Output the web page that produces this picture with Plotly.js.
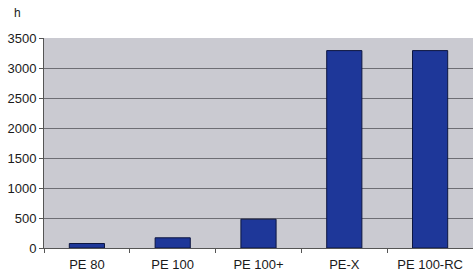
<!DOCTYPE html>
<html><head><meta charset="utf-8">
<script src="https://cdn.plot.ly/plotly-3.0.1.min.js"></script>
<style>html,body{margin:0;padding:0;background:#fff;}#chart{width:473px;height:275px;}</style>
</head><body><div id="chart"></div>
<script>
const categories = ["PE 80", "PE 100", "PE 100+", "PE-X", "PE 100-RC"];
const hours = [75, 170, 480, 3290, 3290];
const yTicks = [0, 500, 1000, 1500, 2000, 2500, 3000, 3500];

const trace = {
  type: 'bar', x: categories, y: hours, width: 0.41,
  marker: {color: '#1e3799', line: {color: '#0d1640', width: 1}},
  hoverinfo: 'none'
};
const layout = {
  width: 473, height: 275,
  margin: {l: 44, r: 0, t: 38, b: 27},
  paper_bgcolor: '#ffffff', plot_bgcolor: '#cacad1',
  showlegend: false,
  font: {family: 'Liberation Sans, Arial, sans-serif', size: 13, color: '#1a1a1a'},
  xaxis: {
    type: 'category', showgrid: false, showline: true, linecolor: '#555', linewidth: 1,
    ticks: 'outside', tickson: 'boundaries', ticklen: 4, tickcolor: '#555',
    ticklabelstandoff: 4,
    tickfont: {size: 13}, fixedrange: true
  },
  yaxis: {
    range: [0, 3500], tickvals: yTicks, ticktext: yTicks.map(String),
    showgrid: true, gridcolor: '#6e6e74', gridwidth: 1,
    showline: true, linecolor: '#555', linewidth: 1,
    ticks: 'outside', ticklen: 4, tickcolor: '#555', zeroline: false,
    tickfont: {size: 13}, fixedrange: true
  },
  annotations: [{text: 'h', xref: 'paper', yref: 'paper', x: -0.062, y: 1.12,
    xanchor: 'center', yanchor: 'middle', showarrow: false, font: {size: 12, color: '#1a1a1a'}}]
};
Plotly.newPlot('chart', [trace], layout, {displayModeBar: false, staticPlot: true});
</script></body></html>
